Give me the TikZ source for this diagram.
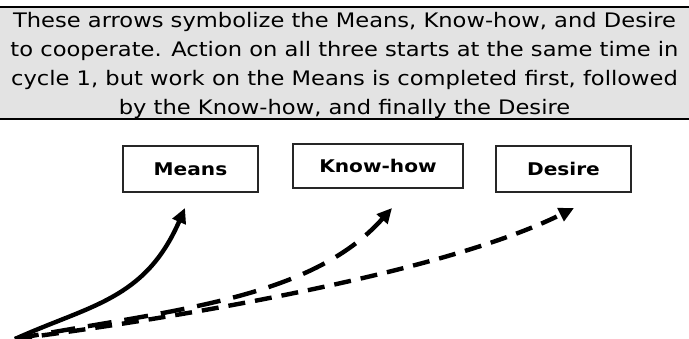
\documentclass[tikz,border=0pt]{standalone}
\usepackage{fontspec}
\setmainfont{DejaVu Sans}[FakeStretch=1.13]
\newfontfamily\boxfont{DejaVu Sans Bold}[FakeStretch=1.15]
\usetikzlibrary{arrows.meta}
\begin{document}
\begin{tikzpicture}[x=1pt,y=-1pt,
  labelbox/.style={draw=black!85,line width=1.4pt,minimum width=135pt,minimum height=46pt,inner sep=0pt,font=\boxfont\fontsize{17.5}{19}\selectfont},
  flow/.style={line width=4.4pt,-{Triangle[length=15pt,width=14pt]}},
  longdash/.style={dash pattern=on 24pt off 13pt},
  shortdash/.style={dash pattern=on 17pt off 10pt}]
\useasboundingbox (0,0) rectangle (689,339);
\fill[black!11] (0,7) rectangle (689,119);
\draw[line width=2.2pt] (0,7) -- (689,7);
\draw[line width=2.2pt] (0,119) -- (689,119);
\node[align=center,inner sep=0pt,font=\fontsize{20}{29}\selectfont] (caption) at (344.5,65)
 {These arrows symbolize the Means, Know-how, and Desire\\
  to cooperate. Action on all three starts at the same time in\\
  cycle 1, but work on the Means is completed first, followed\\
  by the Know-how, and finally the Desire};
\node[labelbox] (means) at (190.5,169) {Means};
\node[labelbox,minimum width=170pt,minimum height=44pt] (know) at (378,166) {Know-how};
\node[labelbox] (desire) at (563.5,169) {Desire};
\coordinate (s) at (15,339);
\coordinate (tm) at (185,208);
\coordinate (tk) at (392,208);
\coordinate (td) at (574,208);
\draw[flow] (s) .. controls (90,305) and (145,300) .. (tm);
\draw[flow,longdash] (s) .. controls (170,310) and (310,300) .. (tk);
\draw[flow,shortdash] (s) .. controls (200,315) and (450,270) .. (td);
\end{tikzpicture}
\end{document}
